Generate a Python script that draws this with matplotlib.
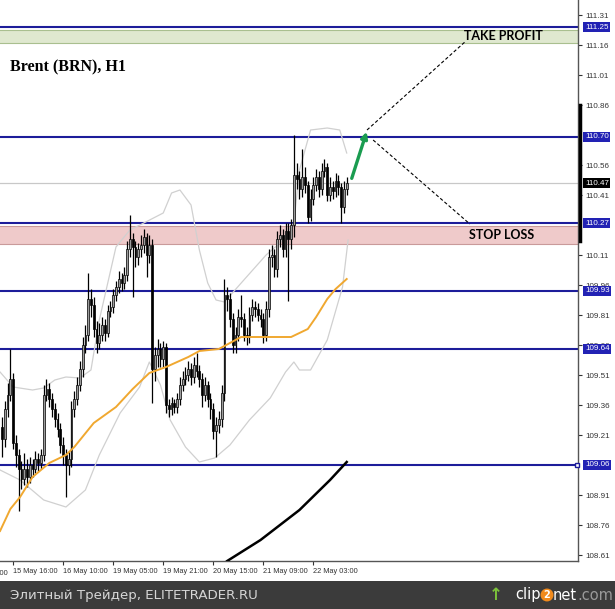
import matplotlib.pyplot as plt
from matplotlib.patches import Rectangle, FancyArrowPatch

# H1 candles, oldest first
opens = [109.25, 109.19, 109.34, 109.41, 109.49, 109.17, 109.11, 109.04, 108.99, 109.04,
         109.00, 109.06, 109.04, 109.09, 109.07, 109.11, 109.41, 109.44, 109.39, 109.34,
         109.29, 109.24, 109.16, 109.11, 109.06, 109.09, 109.34, 109.39, 109.46, 109.54,
         109.66, 109.71, 109.89, 109.86, 109.74, 109.67, 109.71, 109.76, 109.72, 109.83,
         109.85, 109.91, 109.95, 109.99, 109.97, 110.01, 110.14, 110.19, 110.15, 110.10,
         110.14, 110.16, 110.20, 110.11, 110.16, 109.54, 109.61, 109.64, 109.59, 109.65,
         109.36, 109.34, 109.37, 109.35, 109.39, 109.46, 109.49, 109.51, 109.54, 109.50,
         109.56, 109.53, 109.49, 109.41, 109.46, 109.39, 109.34, 109.23, 109.26, 109.29,
         109.42, 109.91, 109.89, 109.79, 109.66, 109.71, 109.80, 109.79, 109.71, 109.70,
         109.81, 109.85, 109.84, 109.81, 109.79, 109.71, 109.84, 110.10, 110.11, 110.04,
         110.19, 110.21, 110.14, 110.23, 110.19, 110.26, 110.51, 110.49, 110.44, 110.50,
         110.46, 110.30, 110.39, 110.46, 110.50, 110.44, 110.53, 110.55, 110.41, 110.45,
         110.43, 110.48, 110.45, 110.35, 110.44]
closes = [109.19, 109.34, 109.41, 109.49, 109.17, 109.11, 109.04, 108.99, 109.04, 109.00,
          109.06, 109.04, 109.09, 109.07, 109.11, 109.41, 109.44, 109.39, 109.34, 109.29,
          109.24, 109.16, 109.11, 109.06, 109.09, 109.34, 109.39, 109.46, 109.54, 109.66,
          109.71, 109.89, 109.86, 109.74, 109.67, 109.71, 109.76, 109.72, 109.83, 109.85,
          109.91, 109.95, 109.99, 109.97, 110.01, 110.14, 110.19, 110.15, 110.10, 110.14,
          110.16, 110.20, 110.11, 110.16, 109.54, 109.61, 109.64, 109.59, 109.65, 109.36,
          109.34, 109.37, 109.35, 109.39, 109.46, 109.49, 109.51, 109.54, 109.50, 109.56,
          109.53, 109.49, 109.41, 109.46, 109.39, 109.34, 109.23, 109.26, 109.29, 109.42,
          109.91, 109.89, 109.79, 109.66, 109.71, 109.80, 109.79, 109.71, 109.70, 109.81,
          109.85, 109.84, 109.81, 109.79, 109.71, 109.84, 110.10, 110.11, 110.04, 110.19,
          110.21, 110.14, 110.23, 110.19, 110.26, 110.51, 110.49, 110.44, 110.50, 110.46,
          110.30, 110.39, 110.46, 110.50, 110.44, 110.53, 110.55, 110.41, 110.45, 110.43,
          110.48, 110.45, 110.35, 110.44, 110.47]
highs = [109.30, 109.38, 109.47, 109.64, 109.52, 109.21, 109.14, 109.08, 109.12, 109.09,
         109.10, 109.09, 109.13, 109.12, 109.14, 109.46, 109.49, 109.47, 109.42, 109.37,
         109.32, 109.27, 109.20, 109.14, 109.13, 109.38, 109.43, 109.50, 109.58, 109.70,
         109.76, 110.02, 109.94, 109.90, 109.78, 109.77, 109.80, 109.79, 109.86, 109.88,
         109.94, 109.98, 110.03, 110.02, 110.05, 110.18, 110.31, 110.22, 110.18, 110.17,
         110.21, 110.24, 110.22, 110.21, 110.19, 109.65, 109.69, 109.67, 109.68, 109.67,
         109.39, 109.40, 109.39, 109.42, 109.50, 109.53, 109.55, 109.58, 109.57, 109.60,
         109.62, 109.56, 109.52, 109.50, 109.48, 109.42, 109.37, 109.30, 109.33, 109.46,
         109.99, 109.95, 109.92, 109.82, 109.75, 109.84, 109.91, 109.82, 109.75, 109.85,
         109.89, 109.88, 109.87, 109.84, 109.82, 109.88, 110.14, 110.16, 110.14, 110.23,
         110.26, 110.24, 110.27, 110.27, 110.29, 110.71, 110.57, 110.53, 110.64, 110.55,
         110.48, 110.44, 110.50, 110.54, 110.53, 110.57, 110.59, 110.57, 110.50, 110.48,
         110.52, 110.51, 110.47, 110.48, 110.50]
lows = [109.10, 109.15, 109.30, 109.38, 109.14, 109.05, 108.83, 108.94, 108.96, 108.95,
        108.97, 109.00, 109.02, 109.03, 109.04, 109.08, 109.38, 109.35, 109.30, 109.25,
        109.20, 109.12, 109.06, 108.90, 109.01, 109.05, 109.30, 109.36, 109.43, 109.50,
        109.62, 109.68, 109.80, 109.70, 109.62, 109.64, 109.68, 109.68, 109.70, 109.80,
        109.82, 109.88, 109.92, 109.93, 109.94, 109.98, 110.10, 109.90, 110.05, 110.06,
        110.10, 110.12, 110.00, 110.07, 109.37, 109.48, 109.55, 109.55, 109.55, 109.32,
        109.30, 109.31, 109.32, 109.32, 109.36, 109.43, 109.46, 109.48, 109.46, 109.47,
        109.50, 109.45, 109.35, 109.38, 109.35, 109.29, 109.19, 109.10, 109.22, 109.25,
        109.38, 109.83, 109.75, 109.62, 109.62, 109.68, 109.75, 109.68, 109.66, 109.67,
        109.78, 109.80, 109.78, 109.75, 109.67, 109.68, 109.80, 110.05, 110.00, 110.00,
        110.15, 110.10, 110.10, 109.88, 110.14, 110.20, 110.44, 110.39, 110.40, 110.42,
        110.27, 110.28, 110.36, 110.43, 110.40, 110.41, 110.50, 110.38, 110.38, 110.39,
        110.40, 110.41, 110.27, 110.32, 110.41]

# moving average (orange) and slow MA (black), as (bar, price)
ma_bar = [-0.7, 3, 6.5, 11, 17, 23, 26, 33, 41, 47, 53, 59, 67, 71, 78, 82, 86, 93, 104,
          110, 113, 117, 120, 124]
ma_val = [108.73, 108.84, 108.90, 109.00, 109.07, 109.11, 109.15, 109.27, 109.35, 109.44,
          109.52, 109.55, 109.60, 109.63, 109.64, 109.67, 109.70, 109.70, 109.70, 109.74,
          109.80, 109.89, 109.94, 109.99]
slow_bar = [81, 93, 107, 118, 124]
slow_val = [108.58, 108.685, 108.835, 108.985, 109.075]

# Bollinger bands
bb_up_bar = [-0.7, 4, 11, 15, 19, 23, 28, 32, 35, 41, 46, 51, 58, 61, 64, 68, 71, 74, 77,
             80, 87, 95, 100, 105, 107, 111, 117, 121.5, 124]
bb_up_val = [109.525, 109.45, 109.435, 109.445, 109.485, 109.50, 109.495, 109.535, 109.785,
             110.15, 110.235, 110.27, 110.32, 110.42, 110.435, 110.36, 110.135, 109.97,
             109.885, 109.875, 109.985, 110.11, 110.17, 110.27, 110.535, 110.735, 110.745,
             110.735, 110.62]
bb_lo_bar = [-0.7, 6.5, 15, 23, 30, 35, 42.5, 49.5, 53, 57, 60.5, 66, 71, 76.5, 82, 89,
             96.5, 102, 105, 107, 111, 117, 122.5, 124.5]
bb_lo_val = [109.035, 108.985, 108.885, 108.85, 108.935, 109.11, 109.32, 109.45, 109.575,
             109.46, 109.285, 109.15, 109.075, 109.095, 109.16, 109.285, 109.395, 109.525,
             109.575, 109.535, 109.535, 109.685, 109.95, 110.185]

levels = [111.25, 110.70, 110.27, 109.93, 109.64, 109.06]
bid = 110.47
tp_zone = (111.17, 111.235)
sl_zone = (110.165, 110.255)
target = (131.5, 110.74)
tp_label = (166.5, 111.175)
sl_label = (168.3, 110.265)

price_ticks = [111.31, 111.16, 111.01, 110.86, 110.56, 110.41, 110.11, 109.96, 109.81,
               109.66, 109.51, 109.36, 109.21, 108.91, 108.76, 108.61]
time_ticks = [-14, 4, 22, 40, 58, 76, 94, 112]
time_labels = ['14 May 22:00', '15 May 16:00', '16 May 10:00', '19 May 05:00',
               '19 May 21:00', '20 May 15:00', '21 May 09:00', '22 May 03:00']

W, H = 615, 609
fig = plt.figure(figsize=(W / 100, H / 100), dpi=100)
ax = fig.add_axes([0, 48 / H, 578 / W, 561 / H])
ax.set_xlim(-0.72, 207.2)
ax.set_ylim(108.58, 111.385)

# zones
ax.add_patch(Rectangle((-5, tp_zone[0]), 300, tp_zone[1] - tp_zone[0],
                       facecolor='#dfe8cf', edgecolor='#a9bf8f', lw=0.8, zorder=1))
ax.add_patch(Rectangle((-5, sl_zone[0]), 300, sl_zone[1] - sl_zone[0],
                       facecolor='#efcaca', edgecolor='#c99a9a', lw=0.8, zorder=1))

ax.axhline(bid, color='#c8c8c8', lw=0.9, zorder=1)
for lv in levels:
    ax.axhline(lv, color='#1d1d9a', lw=1.5, zorder=2)

ax.plot(bb_up_bar, bb_up_val, color='#d0d0d0', lw=0.9, zorder=2)
ax.plot(bb_lo_bar, bb_lo_val, color='#d0d0d0', lw=0.9, zorder=2)
ax.plot(ma_bar, ma_val, color='#f0a830', lw=1.4, zorder=4)
ax.plot(slow_bar, slow_val, color='black', lw=1.8, zorder=4)

# candles
idx = list(range(len(closes)))
ax.vlines(idx, lows, highs, color='black', lw=0.9, zorder=3)
for i, (o, c) in enumerate(zip(opens, closes)):
    bull = c >= o
    ax.add_patch(Rectangle((i - 0.32, min(o, c)), 0.64, max(abs(c - o), 0.006),
                           facecolor='#9c9c9c' if bull else 'black',
                           edgecolor='black', lw=0.5, zorder=3))

# forecast arrow and dashed guides
ax.add_patch(FancyArrowPatch((len(closes) + 0.5, closes[-1] + 0.01), target,
                             arrowstyle='-|>', mutation_scale=9, lw=2.4,
                             color='#1a9c50', zorder=5))
ax.plot([target[0] - 0.2, tp_label[0]], [target[1] - 0.005, tp_label[1]],
        color='black', lw=0.8, ls=(0, (3, 2)), zorder=5)
ax.plot([target[0] + 2, sl_label[0]], [target[1] - 0.055, sl_label[1]],
        color='black', lw=0.8, ls=(0, (3, 2)), zorder=5)

ax.text(tp_label[0] - 0.3, 111.203, 'TAKE PROFIT', fontsize=9, fontweight='bold',
        family='Lato', va='center', ha='left', color='black', zorder=6)
ax.text(sl_label[0] - 0.3, 110.21, 'STOP LOSS', fontsize=9, fontweight='bold',
        family='Lato', va='center', ha='left', color='black', zorder=6)

fig.text(10 / W, 1 - 67 / H, 'Brent (BRN), H1', family='Liberation Serif',
         fontweight='bold', fontsize=11.5, va='center', ha='left')

# axes styling
tick_font = dict(family='Liberation Sans', color='#333333')
for s in ['left', 'top']:
    ax.spines[s].set_visible(False)
for s in ['right', 'bottom']:
    ax.spines[s].set_color('#555555')
    ax.spines[s].set_linewidth(1)
ax.yaxis.tick_right()
ax.set_yticks(price_ticks)
ax.set_yticklabels([f'{p:.2f}' for p in price_ticks], fontsize=5.8, **tick_font)
ax.tick_params(axis='y', length=3, width=0.8, pad=2, colors='#333333')
ax.set_xticks(time_ticks[1:])
ax.set_xticklabels(time_labels[1:], ha='left', fontsize=5.3, **tick_font)
ax.tick_params(axis='x', length=3, width=0.8, pad=2, colors='#333333')
ax.text(time_ticks[0], -9 / 561, time_labels[0], transform=ax.get_xaxis_transform(),
        fontsize=5.3, ha='left', va='top', clip_on=False, **tick_font)

ytr = ax.get_yaxis_transform()
for lv in levels:
    ax.text(1.012, lv, f'{lv:.2f}', transform=ytr, fontsize=5.8, color='white',
            family='Liberation Sans', va='center', ha='left', clip_on=False, zorder=7,
            bbox=dict(boxstyle='square,pad=0.2', fc='#2222b4', ec='none'))
ax.text(1.012, bid, f'{bid:.2f}', transform=ytr, fontsize=5.8, color='white',
        family='Liberation Sans', va='center', ha='left', clip_on=False, zorder=7,
        bbox=dict(boxstyle='square,pad=0.2', fc='black', ec='none'))
ax.plot([1.003, 1.003], [110.86, 110.18], transform=ytr, color='black', lw=2.5,
        clip_on=False, zorder=7)
ax.plot([0.999], [levels[-1]], transform=ytr, marker='s', ms=3, mfc='white',
        mec='#1d1d9a', clip_on=False, zorder=7)

# footer strip
fig.patches.append(Rectangle((0, 0), 1, 28 / H, transform=fig.transFigure,
                             facecolor='#3b3b3b', edgecolor='none'))
fig.text(10 / W, 14 / H, 'Элитный Трейдер, ELITETRADER.RU', fontsize=9.6,
         color='#d6d6d6', va='center', ha='left')
fig.text(541 / W, 14 / H, 'clip', fontsize=10.5, color='white', va='center', ha='right')
fig.text(547 / W, 14 / H, '2', fontsize=7, color='white', va='center', ha='center',
         fontweight='bold',
         bbox=dict(boxstyle='circle,pad=0.15', fc='#f08a1c', ec='none'))
fig.text(553 / W, 14 / H, 'net', fontsize=10.5, color='white', va='center', ha='left')
fig.text(577 / W, 14 / H, '.com', fontsize=10.5, color='#9a9a9a', va='center', ha='left')
fig.text(496 / W, 14 / H, '\u2191', fontsize=12, color='#7cc23a', va='center',
         ha='center', fontweight='bold')

fig.savefig('out.png', dpi=100)
